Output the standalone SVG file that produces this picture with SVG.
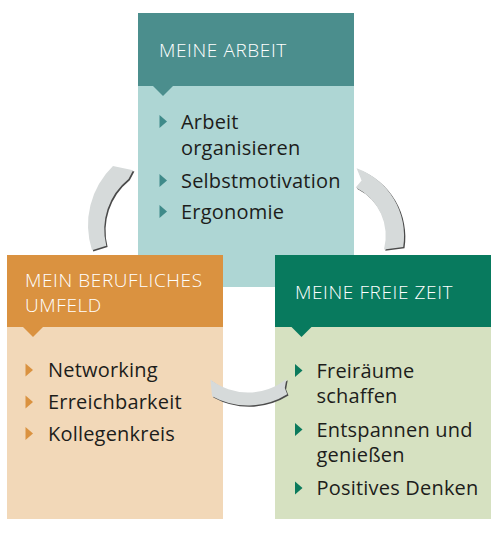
<svg xmlns="http://www.w3.org/2000/svg" width="500" height="534" viewBox="0 0 500 534">
<style>
.hd{font-family:"Open Sans","Noto Sans","Liberation Sans",sans-serif;font-size:19px;font-weight:300;letter-spacing:0.6px;fill:#ffffff}
.tx{font-family:"Open Sans","Noto Sans","Liberation Sans",sans-serif;font-size:20px;letter-spacing:0.2px;fill:#1d1d1b}
.arc{fill:#d6dada}
.sh{fill:#4a4a4a}
</style>
<rect width="500" height="534" fill="#ffffff"/>
<g id="meine-arbeit">
<rect x="138" y="13" width="216" height="274" fill="#aed6d4"/>
<rect x="138" y="13" width="216" height="73" fill="#4b8e8d"/>
<polygon points="153,86 173,86 163,96" fill="#4b8e8d"/>
<text class="hd" x="159" y="57.3">MEINE ARBEIT</text>
<polygon points="159.5,115 167,121.5 159.5,128" fill="#3f8a89"/>
<text class="tx" x="181" y="129">Arbeit</text>
<text class="tx" x="181" y="155">organisieren</text>
<polygon points="159.5,174 167,180.5 159.5,187" fill="#3f8a89"/>
<text class="tx" x="181" y="188">Selbstmotivation</text>
<polygon points="159.5,205 167,211.5 159.5,218" fill="#3f8a89"/>
<text class="tx" x="181" y="219">Ergonomie</text>
</g>
<g id="mein-berufliches-umfeld">
<rect x="7" y="255" width="216" height="264" fill="#f2d8b8"/>
<rect x="7" y="255" width="216" height="72" fill="#da9240"/>
<polygon points="23,327 43,327 33,337" fill="#da9240"/>
<text class="hd" x="25" y="286.7">MEIN BERUFLICHES</text>
<text class="hd" x="25" y="311.7">UMFELD</text>
<polygon points="25.5,363.5 33,370 25.5,376.5" fill="#da9240"/>
<text class="tx" x="48" y="377.3">Networking</text>
<polygon points="25.5,395.5 33,402 25.5,408.5" fill="#da9240"/>
<text class="tx" x="48" y="409.3">Erreichbarkeit</text>
<polygon points="25.5,427 33,433.5 25.5,440" fill="#da9240"/>
<text class="tx" x="48" y="441">Kollegenkreis</text>
</g>
<g id="meine-freie-zeit">
<rect x="275" y="255" width="216" height="264" fill="#d6e1c1"/>
<rect x="275" y="255" width="216" height="72" fill="#087a5e"/>
<polygon points="291.5,327 311.5,327 301.5,337" fill="#087a5e"/>
<text class="hd" x="295" y="299.3">MEINE FREIE ZEIT</text>
<polygon points="295,364 302.5,370.5 295,377" fill="#0b7a5c"/>
<text class="tx" x="316.5" y="377.7">Freiräume</text>
<text class="tx" x="316.5" y="403.3">schaffen</text>
<polygon points="295,423 302.5,429.5 295,436" fill="#0b7a5c"/>
<text class="tx" x="316.5" y="436.7">Entspannen und</text>
<text class="tx" x="316.5" y="461.7">genießen</text>
<polygon points="295,481.5 302.5,488 295,494.5" fill="#0b7a5c"/>
<text class="tx" x="316.5" y="495">Positives Denken</text>
</g>
<g id="connectors">
<defs>
<path id="a1" d="M 92,250.3 A 82 82 0 0 1 113,166 L 133.1,170.3 L 128.5,178.9 A 65 65 0 0 0 106.3,245.7 Z"/>
<path id="a2" d="M 356.6,168.3 A 72 72 0 0 1 403.2,247 L 384,249.5 A 54 54 0 0 0 355.7,187.5 L 361.6,180.4 Z"/>
<path id="a3" d="M 287.2,394.3 A 74 74 0 0 1 212.1,396.2 L 210.4,379.6 A 61 61 0 0 0 286.4,378.9 L 284.8,388.1 Z"/>
</defs>
<use href="#a1" class="sh" transform="translate(1.3,1.3)"/>
<use href="#a1" class="arc"/>
<use href="#a2" class="sh" transform="translate(1.3,1.3)"/>
<use href="#a2" class="arc"/>
<use href="#a3" class="sh" transform="translate(1.3,1.3)"/>
<use href="#a3" class="arc"/>
</g>
</svg>
